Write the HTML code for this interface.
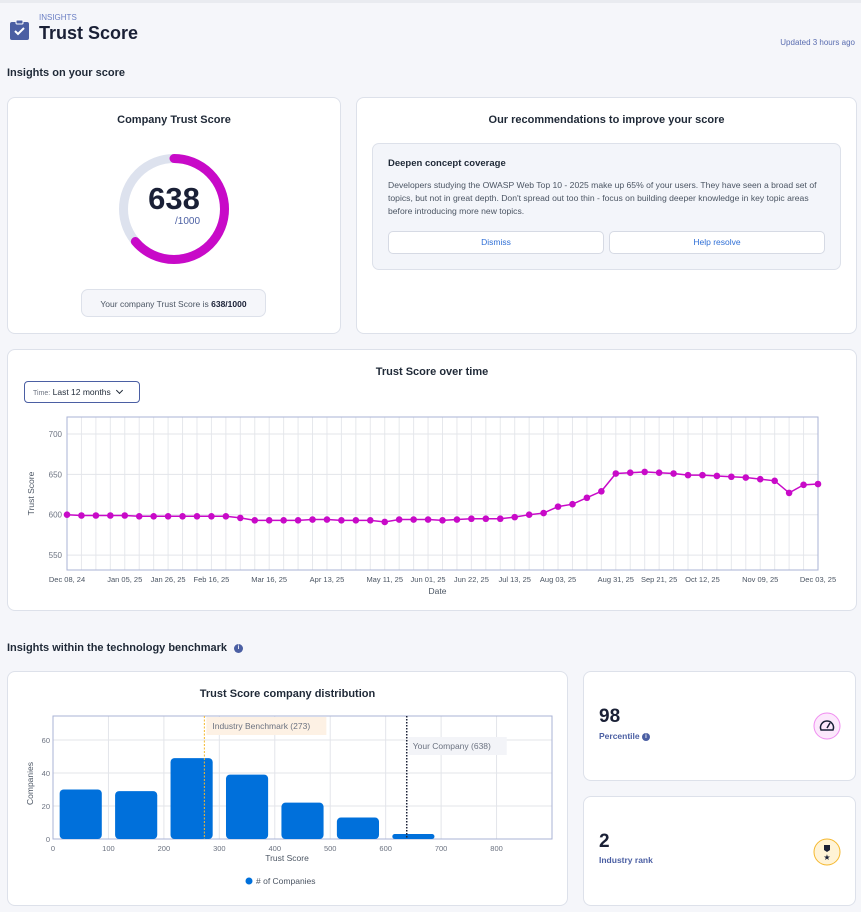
<!DOCTYPE html>
<html><head><meta charset="utf-8"><style>
body{margin:0;width:861px;height:912px;background:#f5f6fa;font-family:"Liberation Sans",sans-serif;position:relative;overflow:hidden;color:#1f2937}
.abs{position:absolute}
.card{position:absolute;background:#fff;border:1px solid #dde1ea;border-radius:8px;box-sizing:border-box}
.t{position:absolute;white-space:nowrap}
</style></head><body>
<div class="abs" style="left:0;top:0;width:861px;height:3px;background:#e9ebf0"></div>
<svg class="abs" style="left:10px;top:19px" width="20" height="22" viewBox="0 0 20 22"><rect x="0" y="3" width="19" height="18" rx="2" fill="#4b5fa3"/><rect x="6" y="1" width="7" height="4" rx="1" fill="#4b5fa3" stroke="#fff" stroke-width="1"/><path d="M5 12 l3 3 l6 -6" stroke="#fff" stroke-width="2" fill="none"/></svg>
<div class="t" style="left:39px;top:13px;font-size:8px;color:#6b7fc4">INSIGHTS</div>
<div class="t" style="left:39px;top:23px;font-size:18px;font-weight:bold;color:#1a2036">Trust Score</div>
<div class="t" style="right:6px;top:38px;font-size:8px;color:#5a6db0">Updated 3 hours ago</div>
<div class="t" style="left:7px;top:67px;font-size:11px;font-weight:bold;color:#1f2937">Insights on your score</div>

<div class="card" style="left:7px;top:97px;width:334px;height:237px">
<div class="t" style="left:0;width:332px;text-align:center;top:16px;font-size:11px;font-weight:bold">Company Trust Score</div>
<svg class="abs" style="left:110px;top:55px" width="112" height="112">
<circle cx="56" cy="56" r="50.5" fill="none" stroke="#dde2ee" stroke-width="9"/>
<circle cx="56" cy="56" r="50.5" fill="none" stroke="#c80ac8" stroke-width="9" stroke-linecap="round" stroke-dasharray="202.3 400" transform="rotate(-90 56 56)"/>
</svg>
<div class="t" style="left:0;width:332px;text-align:center;top:83px;font-size:31px;font-weight:bold;color:#1a2036">638</div>
<div class="t" style="left:167px;top:118px;font-size:10px;color:#4b5fa3">/1000</div>
<div class="abs" style="left:73px;top:191px;width:185px;height:28px;border:1px solid #dde1ea;border-radius:7px;background:#f5f6fa;font-size:8.5px;color:#4b5563;text-align:center;line-height:28px;box-sizing:border-box">Your company Trust Score is <b style="color:#1a2036">638/1000</b></div>
</div>

<div class="card" style="left:356px;top:97px;width:501px;height:237px">
<div class="t" style="left:0;width:499px;text-align:center;top:16px;font-size:11px;font-weight:bold">Our recommendations to improve your score</div>
<div class="abs" style="left:15px;top:45px;width:469px;height:127px;background:#f3f5fa;border:1px solid #dde1ea;border-radius:7px;box-sizing:border-box">
<div class="t" style="left:15px;top:14px;font-size:9.5px;font-weight:bold">Deepen concept coverage</div>
<div class="abs" style="left:15px;top:35px;width:440px;font-size:8.6px;line-height:13.2px;color:#4b5563">Developers studying the OWASP Web Top 10 - 2025 make up 65% of your users. They have seen a broad set of topics, but not in great depth. Don't spread out too thin - focus on building deeper knowledge in key topic areas before introducing more new topics.</div>
<div class="abs" style="left:15px;top:87px;width:216px;height:23px;background:#fff;border:1px solid #d6dae4;border-radius:5px;box-sizing:border-box;text-align:center;line-height:21px;font-size:8.5px;color:#2f6fd6">Dismiss</div>
<div class="abs" style="left:236px;top:87px;width:216px;height:23px;background:#fff;border:1px solid #d6dae4;border-radius:5px;box-sizing:border-box;text-align:center;line-height:21px;font-size:8.5px;color:#2f6fd6">Help resolve</div>
</div>
</div>

<div class="card" style="left:7px;top:349px;width:850px;height:262px">
<div class="t" style="left:0;width:848px;text-align:center;top:16px;font-size:11px;font-weight:bold">Trust Score over time</div>
<div class="abs" style="left:16px;top:31px;width:116px;height:22px;border:1px solid #4b5fa3;border-radius:4px;box-sizing:border-box;font-size:8.5px;line-height:20px;padding-left:8px;color:#1f2937"><span style="font-size:7px;color:#6b7280">Time:</span> Last 12 months <span style="display:inline-block;width:4px;height:4px;border-right:1.3px solid #1f2937;border-bottom:1.3px solid #1f2937;transform:rotate(45deg);margin-left:4px;position:relative;top:-2px"></span></div>
</div>
<svg class="abs" id="line" style="left:0;top:405px" width="861" height="200"></svg>

<div class="t" style="left:7px;top:642px;font-size:11px;font-weight:bold">Insights within the technology benchmark <span style="display:inline-block;width:9px;height:9px;border-radius:50%;background:#4b5fa3;color:#fff;font-size:6px;text-align:center;line-height:9px;vertical-align:middle;margin-left:4px">i</span></div>

<div class="card" style="left:7px;top:671px;width:561px;height:235px">
<div class="t" style="left:0;width:559px;text-align:center;top:16px;font-size:11px;font-weight:bold">Trust Score company distribution</div>
</div>
<svg class="abs" id="bar" style="left:0;top:700px" width="570" height="200"></svg>

<div class="card" style="left:583px;top:671px;width:273px;height:110px">
<div class="t" style="left:15px;top:34px;font-size:19px;font-weight:bold;color:#1a2036">98</div>
<div class="t" style="left:15px;top:59px;font-size:8.5px;font-weight:bold;color:#4b5fa3">Percentile <span style="display:inline-block;width:8px;height:8px;border-radius:50%;background:#4b5fa3;color:#fff;font-size:6px;text-align:center;line-height:8px;vertical-align:middle">i</span></div>
<svg class="abs" style="left:229px;top:40px" width="28" height="28"><circle cx="14" cy="14" r="13" fill="#fce8fc" stroke="#f08cf0" stroke-width="1"/><path d="M8 18 A6.5 6.5 0 1 1 20 18 Z" fill="none" stroke="#1a2036" stroke-width="1.5"/><path d="M14 16 L17 11" stroke="#1a2036" stroke-width="1.5"/></svg>
</div>
<div class="card" style="left:583px;top:796px;width:273px;height:110px">
<div class="t" style="left:15px;top:34px;font-size:19px;font-weight:bold;color:#1a2036">2</div>
<div class="t" style="left:15px;top:58px;font-size:8.5px;font-weight:bold;color:#4b5fa3">Industry rank</div>
<svg class="abs" style="left:229px;top:41px" width="28" height="28"><circle cx="14" cy="14" r="13" fill="#fff3d6" stroke="#f5b82e" stroke-width="1"/><path d="M11 7 h6 v5 l-3 2 l-3 -2 Z" fill="#1a2036"/><text x="14" y="22" font-size="8" text-anchor="middle" fill="#1a2036">★</text></svg>
</div>

<script>
const NS='http://www.w3.org/2000/svg';
function mk(p,tag,a,txt){const e=document.createElementNS(NS,tag);for(const k in a)e.setAttribute(k,a[k]);if(txt!==undefined)e.textContent=txt;p.appendChild(e);return e;}

// ---- line chart data ----
const lineScores=[600,599,599,599,599,598,598,598,598,598,598,598,596,593,593,593,593,594,594,593,593,593,591,594,594,594,593,594,595,595,595,597,600,602,610,613,621,629,651,652,653,652,651,649,649,648,647,646,644,642,627,637,638];
const lineTickIdx=[0,4,7,10,14,18,22,25,28,31,34,38,41,44,48,52];
const lineTickLabels=['Dec 08, 24','Jan 05, 25','Jan 26, 25','Feb 16, 25','Mar 16, 25','Apr 13, 25','May 11, 25','Jun 01, 25','Jun 22, 25','Jul 13, 25','Aug 03, 25','Aug 31, 25','Sep 21, 25','Oct 12, 25','Nov 09, 25','Dec 03, 25'];
const lineYTicks=[550,600,650,700];

(function(){
const s=document.getElementById('line');
const L=67,R=818,T=12,B=165,ymin=531.5,ymax=721;
const x=i=>L+(R-L)*i/(lineScores.length-1);
const y=v=>B-(v-ymin)/(ymax-ymin)*(B-T);
lineScores.forEach((v,i)=>{const g=mk(s,'line',{x1:x(i),x2:x(i),y1:T,y2:B,stroke:'#e6e8ec','stroke-width':1});

});
lineYTicks.forEach(v=>{const g=mk(s,'line',{x1:L,x2:R,y1:y(v),y2:y(v),stroke:'#e3e5ea'});


const t=mk(s,'text',{x:L-5,y:y(v)+3,'font-size':8,'text-anchor':'end',fill:'#6b7280'},v);

});
const fr=mk(s,'rect',{x:L,y:T,width:R-L,height:B-T,fill:'none',stroke:'#aab3d6'});


lineTickIdx.forEach((idx,k)=>{const t=mk(s,'text',{x:x(idx),y:B+12,'font-size':7.5,'text-anchor':'middle',fill:'#4b5563'},lineTickLabels[k]);

});
const pl=mk(s,'polyline',{points:lineScores.map((v,i)=>x(i)+','+y(v)).join(' '),fill:'none',stroke:'#c80ac8','stroke-width':1.5});


lineScores.forEach((v,i)=>{const c=mk(s,'circle',{cx:x(i),cy:y(v),r:3.3,fill:'#c80ac8'});

});
const xt=mk(s,'text',{x:(L+R)/2-5,y:B+24,'font-size':8.5,'text-anchor':'middle',fill:'#4b5563'},'Date');


const yt=mk(s,'text',{x:0,y:0,'font-size':8.5,'text-anchor':'middle',fill:'#4b5563',transform:`translate(34 ${(T+B)/2}) rotate(-90)`},'Trust Score');


})();

// ---- bar chart data ----
const binStarts=[0,100,200,300,400,500,600];
const binCounts=[30,29,49,39,22,13,3];
const barXTicks=[0,100,200,300,400,500,600,700,800];
const barYTicks=[0,20,40,60];
const benchmarkScore=[273];
const companyScore=[638];

(function(){
const s=document.getElementById('bar');
const L=53,R=552,T=16,B=139,xmax=900,ymax=74.5;
const x=v=>L+(R-L)*v/xmax;
const y=v=>B-v/ymax*(B-T);
barXTicks.forEach(v=>{const g=mk(s,'line',{x1:x(v),x2:x(v),y1:T,y2:B,stroke:'#e3e5ea'});


const t=mk(s,'text',{x:x(v),y:B+12,'font-size':7.5,'text-anchor':'middle',fill:'#6b7280'},v);

});
barYTicks.forEach(v=>{const g=mk(s,'line',{x1:L,x2:R,y1:y(v),y2:y(v),stroke:'#e3e5ea'});


const t=mk(s,'text',{x:L-3,y:y(v)+3,'font-size':7.5,'text-anchor':'end',fill:'#6b7280'},v);

});
const fr=mk(s,'rect',{x:L,y:T,width:R-L,height:B-T,fill:'none',stroke:'#aab3d6'});


binStarts.forEach((b,i)=>{const x0=x(b+12),x1=x(b+88),yt=y(binCounts[i]);
const r=mk(s,'rect',{x:x0,y:yt,width:x1-x0,height:B-yt,rx:Math.min(4,(B-yt)/2),fill:'#0070db'});

});
const bx=x(benchmarkScore[0]);
const bl=mk(s,'line',{x1:bx,x2:bx,y1:T,y2:B,stroke:'#f5b82e','stroke-dasharray':'2 1.5'});


const bb=mk(s,'rect',{x:bx+2,y:T+1,width:120,height:18,fill:'#fdf1e4'});


const btx=mk(s,'text',{x:bx+8,y:T+13,'font-size':8.5,fill:'#6b7280'},'Industry Benchmark ('+benchmarkScore[0]+')');


const cx=x(companyScore[0]);
const cl=mk(s,'line',{x1:cx,x2:cx,y1:T,y2:B,stroke:'#1a2036','stroke-width':1.5,'stroke-dasharray':'1.5 1.5'});


const cb=mk(s,'rect',{x:cx+2,y:T+21,width:98,height:18,fill:'#f3f4f8'});


const ctx=mk(s,'text',{x:cx+6,y:T+33,'font-size':8.5,fill:'#6b7280'},'Your Company ('+companyScore[0]+')');


const xt=mk(s,'text',{x:287,y:B+22,'font-size':8.5,'text-anchor':'middle',fill:'#4b5563'},'Trust Score');


const yt=mk(s,'text',{x:0,y:0,'font-size':8.5,'text-anchor':'middle',fill:'#4b5563',transform:`translate(33 ${(T+B)/2+6}) rotate(-90)`},'Companies');


const lc=mk(s,'circle',{cx:249,cy:181,r:3.5,fill:'#0070db'});


const lt=mk(s,'text',{x:256,y:184,'font-size':8.5,fill:'#4b5563'},'# of Companies');


})();
</script>
</body></html>
